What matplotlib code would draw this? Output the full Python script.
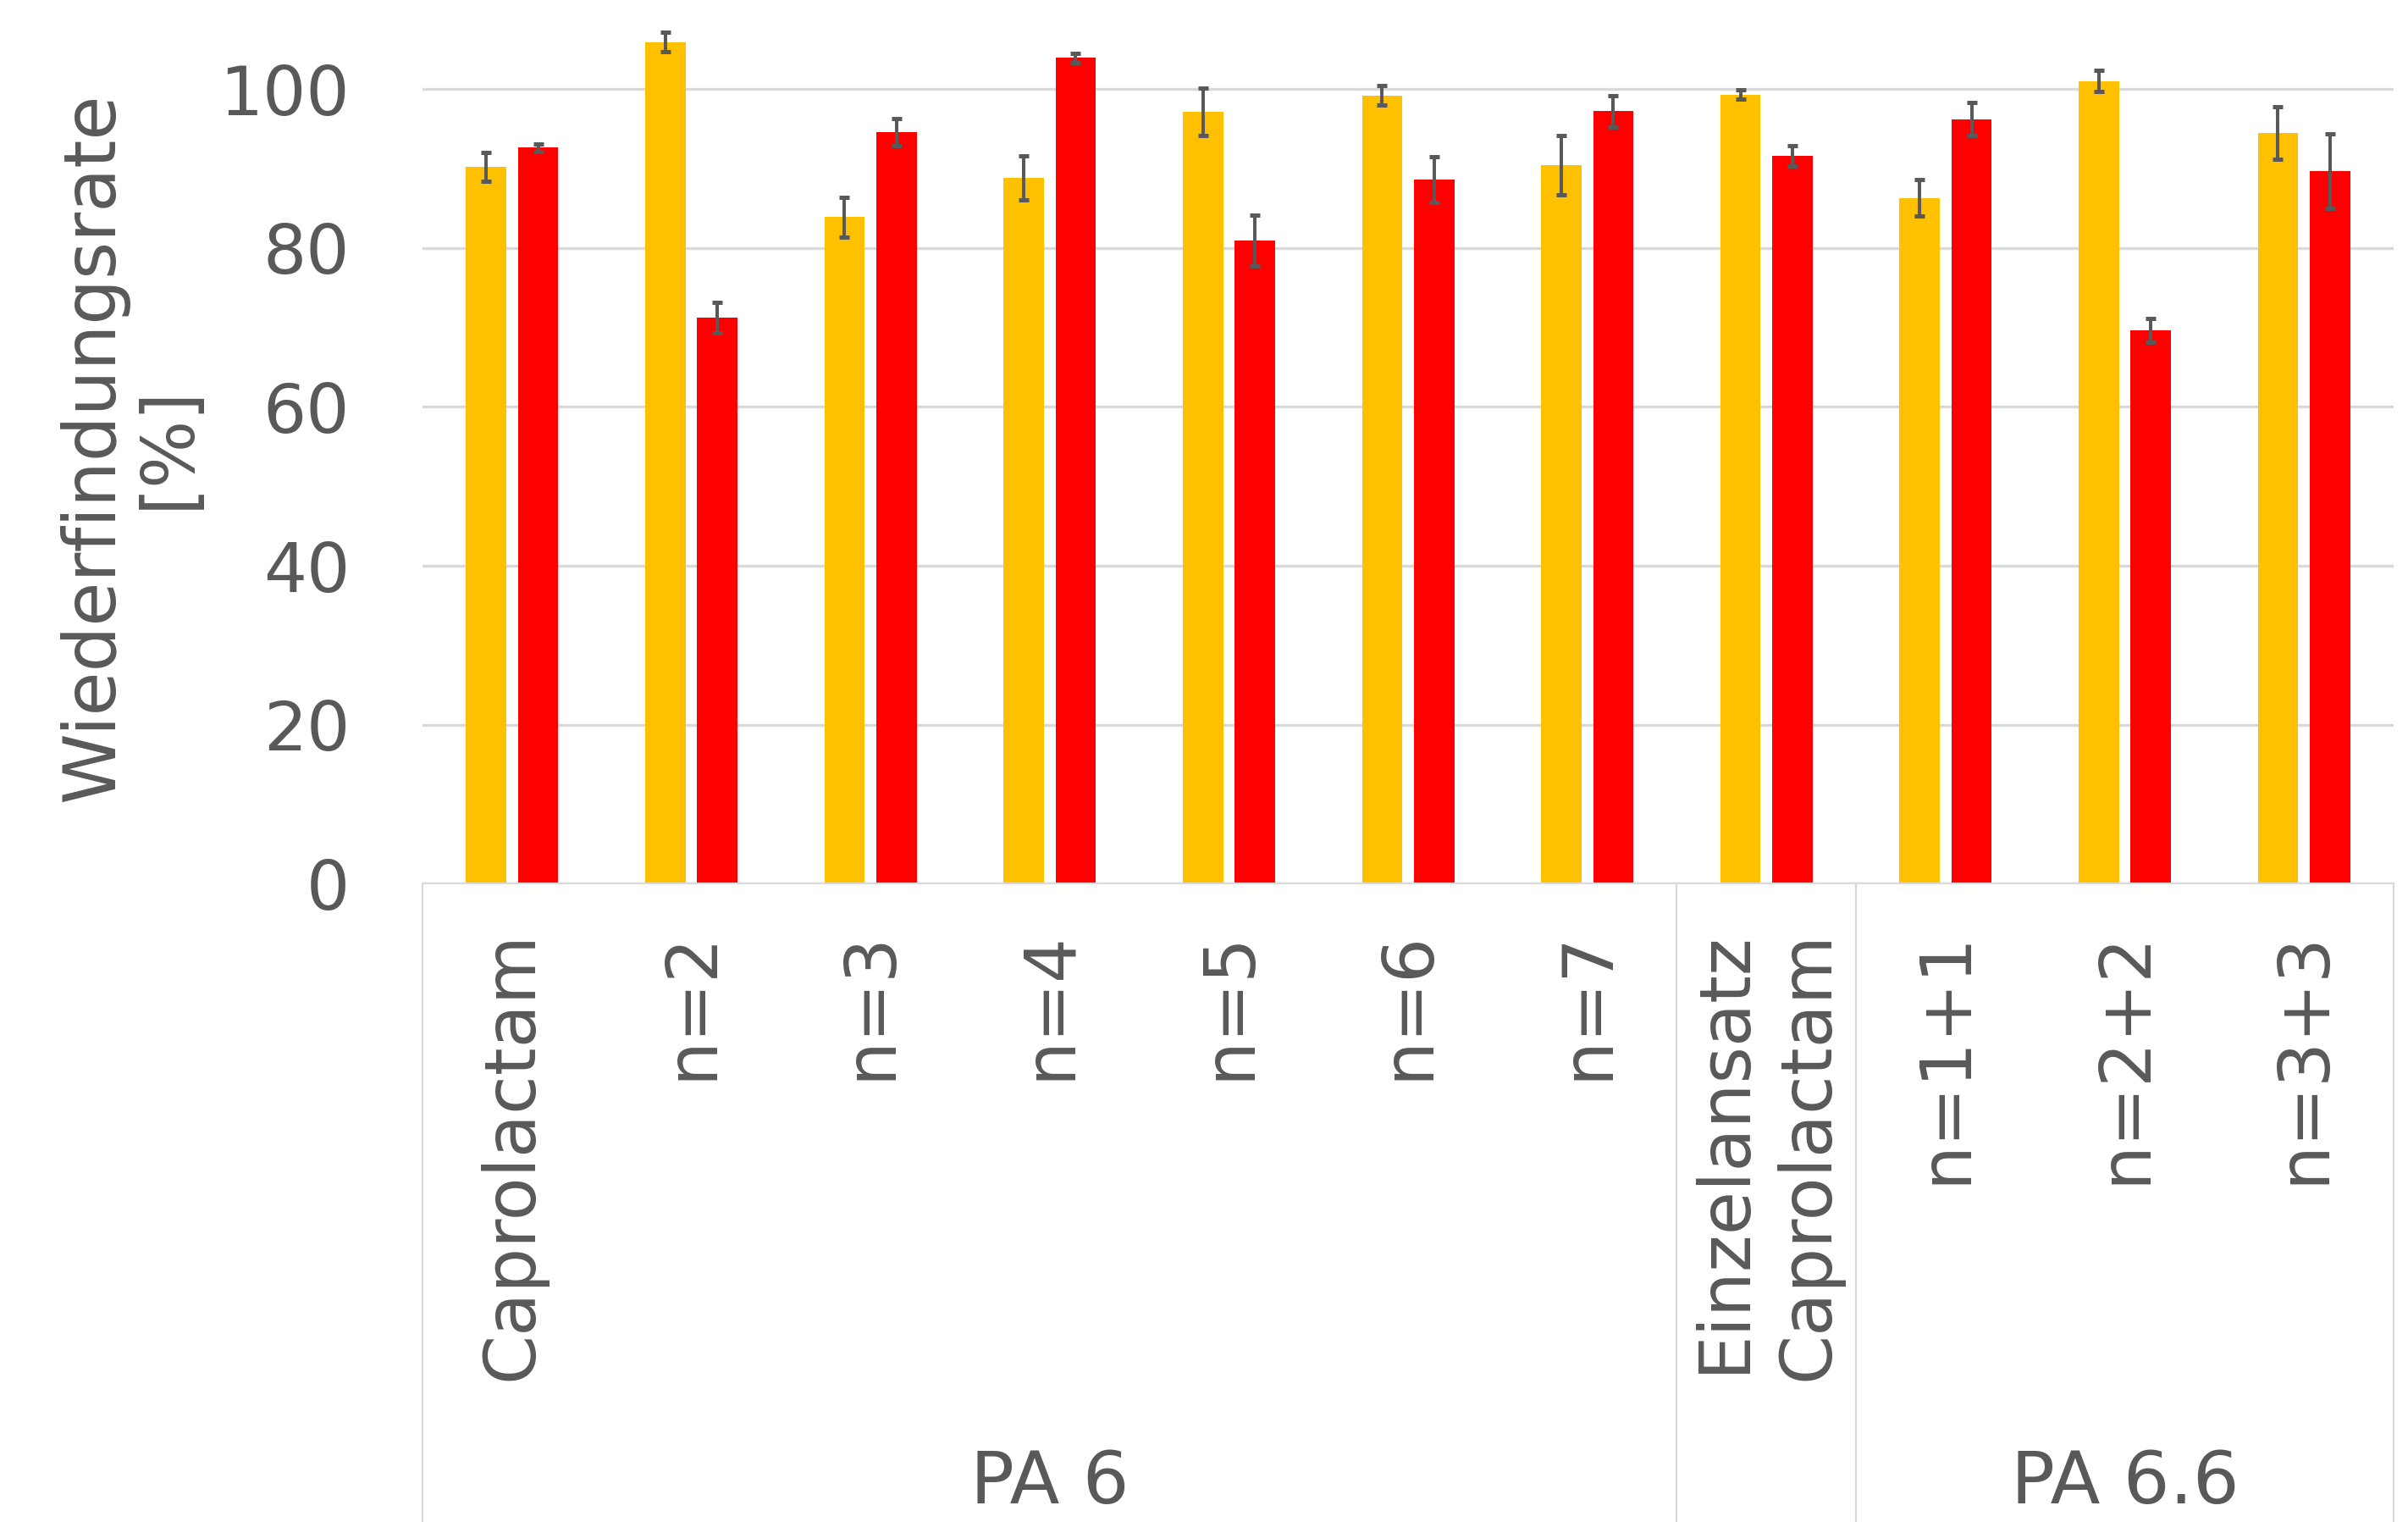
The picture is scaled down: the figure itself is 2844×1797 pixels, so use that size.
"""
Wiederfindungsrate (recovery rate) per oligomer, PA 6 and PA 6.6.
Grouped bar chart with error bars and a two-level category axis.
"""

import matplotlib
matplotlib.use('Agg')
import matplotlib.pyplot as plt
import numpy as np


# ============================================================
# DATA
# ============================================================
categories = ['Caprolactam', 'n=2', 'n=3', 'n=4', 'n=5', 'n=6', 'n=7',
              'Einzelansatz\nCaprolactam', 'n=1+1', 'n=2+2', 'n=3+3']

yellow_values = [90.2, 105.9, 83.9, 88.8, 97.1, 99.2, 90.4, 99.3, 86.3, 101.0, 94.5]
yellow_errors = [1.8, 1.2, 2.5, 2.8, 3.0, 1.2, 3.7, 0.6, 2.3, 1.3, 3.3]

red_values = [92.6, 71.2, 94.6, 103.9, 80.9, 88.6, 97.2, 91.6, 96.2, 69.6, 89.7]
red_errors = [0.5, 1.9, 1.7, 0.6, 3.2, 2.9, 2.0, 1.25, 2.1, 1.5, 4.7]

# (label, first category index, last category index)
groups = [('PA 6', 0, 6), ('', 7, 7), ('PA 6.6', 8, 10)]

y_ticks = [0, 20, 40, 60, 80, 100]


# ============================================================
# STYLE
# ============================================================
YELLOW = '#FFC000'
RED = '#FF0000'
TEXT = '#595959'
GRID = '#D9D9D9'
BAR_W = 0.225
OFFSET = 0.145


def main():
    fig = plt.figure(figsize=(28.44, 17.97), dpi=100)
    ax = fig.add_axes([0.1755, 0.4194, 0.8185, 0.5796])

    x = np.arange(len(categories))

    ax.bar(x - OFFSET, yellow_values, BAR_W, color=YELLOW, zorder=2)
    ax.bar(x + OFFSET, red_values, BAR_W, color=RED, zorder=2)

    err_style = dict(fmt='none', ecolor=TEXT, elinewidth=2.9,
                     capsize=4.3, capthick=3.6, zorder=3)
    ax.errorbar(x - OFFSET, yellow_values, yerr=yellow_errors, **err_style)
    ax.errorbar(x + OFFSET, red_values, yerr=red_errors, **err_style)

    ax.set_xlim(-0.5, len(categories) - 0.5)
    ax.set_ylim(0, 111)
    ax.set_yticks(y_ticks)
    ax.set_xticks([])

    ax.yaxis.grid(True, color=GRID, linewidth=2.4)
    ax.set_axisbelow(True)
    for side in ['top', 'right', 'left']:
        ax.spines[side].set_visible(False)
    ax.spines['bottom'].set_color(GRID)
    ax.spines['bottom'].set_linewidth(1.5)

    ax.tick_params(axis='y', length=0, pad=62, labelsize=58, labelcolor=TEXT)

    # first level of the category axis
    xtrans = ax.get_xaxis_transform()
    for i, label in enumerate(categories):
        ax.text(i, -0.053, label, transform=xtrans, rotation=90,
                rotation_mode='anchor', ha='right', va='center',
                multialignment='right', fontsize=60, color=TEXT,
                linespacing=1.3)

    # second level: group names and separator lines
    for name, first, last in groups:
        ax.text((first + last) / 2, -0.68, name, transform=xtrans,
                ha='center', va='center', fontsize=62, color=TEXT)
        for edge in (first - 0.5, last + 0.5):
            ax.plot([edge, edge], [0, -0.73], transform=xtrans, color=GRID,
                    linewidth=1.5, clip_on=False)

    fig.text(155 / 2844, 1 - 528 / 1797, 'Wiederfindungsrate\n[%]',
             rotation=90, ha='center', va='center', fontsize=61, color=TEXT,
             linespacing=1.1)

    fig.savefig('out.png', dpi=100)
    plt.close(fig)


if __name__ == '__main__':
    main()
